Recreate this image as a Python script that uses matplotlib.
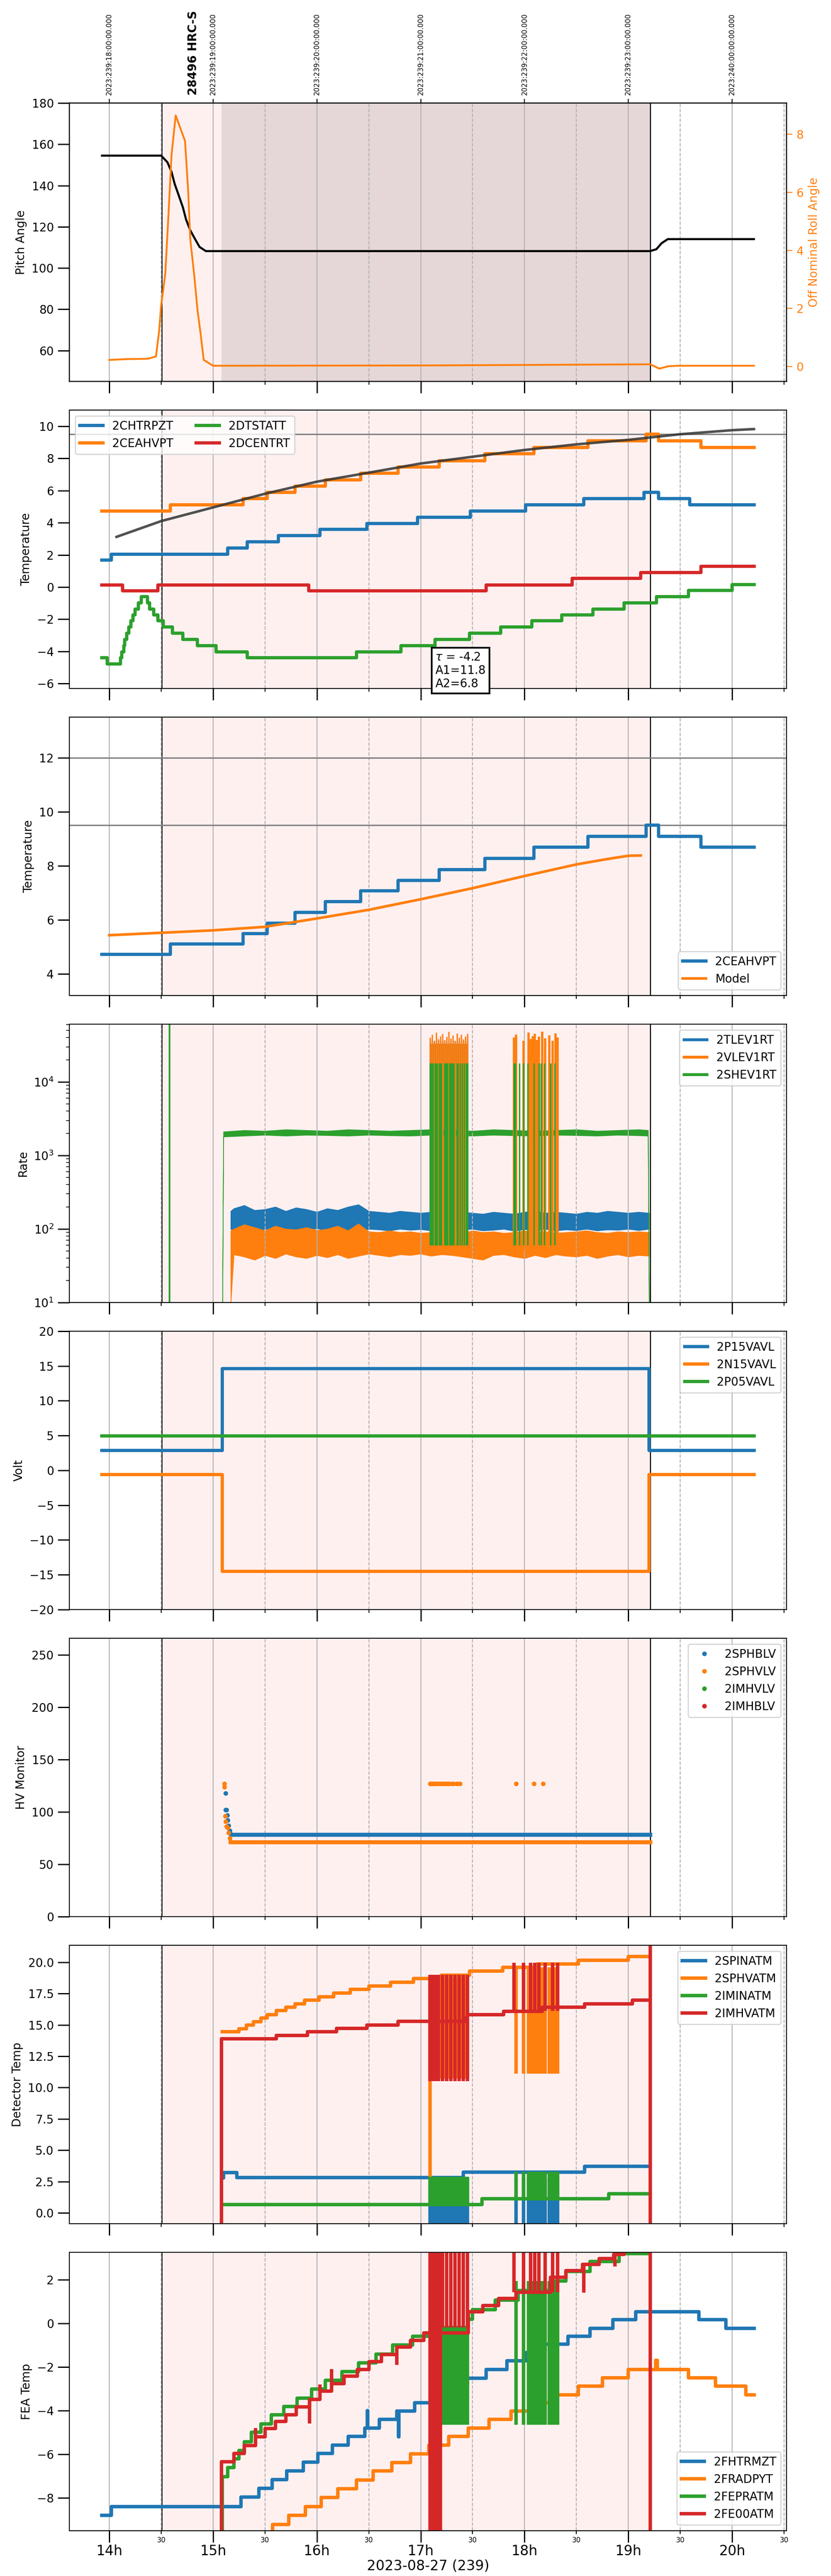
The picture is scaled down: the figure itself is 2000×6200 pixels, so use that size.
import numpy as np
import matplotlib
matplotlib.use("Agg")
import matplotlib.pyplot as plt
from matplotlib.ticker import MultipleLocator, FuncFormatter

# ---- time axis (local hours, 2023-08-27 / doy 239) ----
hour_ticks = [14, 15, 16, 17, 18, 19, 20]
doy_labels = ["2023:239:18:00:00.000", "2023:239:19:00:00.000", "2023:239:20:00:00.000",
              "2023:239:21:00:00.000", "2023:239:22:00:00.000", "2023:239:23:00:00.000",
              "2023:240:00:00:00.000"]
obs_label = "28496 HRC-S"
obs_label_t = 14.81
obs_start, obs_end = 14.508, 19.212
dwell_start = 15.08
t_first, t_last = 13.93, 20.21

# burst (glitch) switch times shared by the telemetry
b1_times = [17.09, 17.11, 17.13, 17.15, 17.17, 17.19, 17.21, 17.23, 17.25, 17.27,
            17.29, 17.31, 17.33, 17.35, 17.37, 17.39, 17.41, 17.43, 17.45]
b2_times = [17.90, 17.92, 17.99, 18.04, 18.06, 18.08, 18.10, 18.12, 18.14, 18.17,
            18.20, 18.24, 18.27, 18.30, 18.32]

# ---- panel 1: pitch / roll ----
pitch_t = [13.93, 14.50, 14.56, 14.60, 14.63, 14.67, 14.71, 14.74, 14.78, 14.83, 14.87,
           14.93, 19.21, 19.27, 19.32, 19.38, 20.21]
pitch_v = [154.5, 154.5, 151.3, 146.6, 140.8, 135.1, 129.3, 123.5, 118.3, 113.7, 110.2,
           108.2, 108.2, 109.1, 112.0, 114.0, 114.0]
roll_t = [14.00, 14.17, 14.37, 14.45, 14.48, 14.50, 14.54, 14.57, 14.60, 14.64, 14.68,
          14.73, 14.76, 14.78, 14.82, 14.85, 14.88, 14.91, 15.00, 17.03, 19.21, 19.30,
          19.38, 19.47, 20.21]
roll_v = [0.22, 0.25, 0.26, 0.34, 1.2, 2.1, 3.2, 5.2, 7.3, 8.65, 8.26, 7.77, 6.05, 4.4,
          3.09, 1.94, 1.12, 0.22, 0.02, 0.03, 0.07, -0.08, 0.0, 0.02, 0.02]

# ---- panel 2: temperatures ----
chtrpzt_t = [13.93, 14.02, 15.14, 15.33, 15.63, 16.03, 16.48, 16.97, 17.48, 18.01, 18.57,
             19.15, 19.29, 19.59, 20.21]
chtrpzt_v = [1.68, 2.05, 2.42, 2.82, 3.19, 3.59, 3.95, 4.34, 4.72, 5.10, 5.49, 5.88, 5.49,
             5.10, 5.10]
ceahvpt_t = [13.93, 14.59, 15.29, 15.52, 15.79, 16.08, 16.42, 16.78, 17.18, 17.62, 18.09,
             18.61, 19.17, 19.29, 19.70, 20.21]
ceahvpt_v = [4.72, 5.10, 5.49, 5.88, 6.27, 6.67, 7.07, 7.46, 7.86, 8.28, 8.68, 9.09, 9.50,
             9.09, 8.68, 8.68]
dtstatt_t = [13.93, 13.98, 14.11, 14.12, 14.14, 14.15, 14.17, 14.19, 14.21, 14.23, 14.25,
             14.28, 14.31, 14.37, 14.39, 14.43, 14.47, 14.52, 14.61, 14.71, 14.85, 15.03,
             15.33, 16.38, 16.81, 17.14, 17.47, 17.77, 18.07, 18.36, 18.66, 18.96, 19.27,
             19.58, 20.00, 20.21]
dtstatt_v = [-4.40, -4.79, -4.40, -4.02, -3.64, -3.25, -2.87, -2.48, -2.10, -1.74, -1.36,
             -0.97, -0.59, -0.97, -1.36, -1.74, -2.10, -2.48, -2.87, -3.25, -3.64, -4.02,
             -4.40, -4.02, -3.64, -3.25, -2.87, -2.48, -2.10, -1.74, -1.36, -0.97, -0.59,
             -0.21, 0.15, 0.15]
dcentrt_t = [13.93, 14.13, 14.47, 15.92, 17.63, 18.46, 19.12, 19.70, 20.21]
dcentrt_v = [0.14, -0.24, 0.14, -0.24, 0.14, 0.53, 0.91, 1.29, 1.29]
fit_t = [14.07, 14.5, 15.0, 15.5, 16.0, 16.5, 17.0, 17.5, 18.0, 18.5, 19.0, 19.5, 20.0, 20.21]
fit_v = [3.12, 4.10, 4.95, 5.80, 6.55, 7.11, 7.68, 8.10, 8.52, 8.87, 9.15, 9.50, 9.75, 9.82]
fit_text = r"$\tau$ = -4.2" + "\nA1=11.8\nA2=6.8"
fit_text_pos = (17.14, -3.99)
temp_limit = 9.5

# ---- panel 3: 2CEAHVPT vs model ----
model_t = [14.0, 14.5, 15.0, 15.5, 16.0, 16.5, 17.0, 17.5, 18.0, 18.5, 18.8, 19.0, 19.12]
model_v = [5.43, 5.52, 5.61, 5.74, 6.05, 6.37, 6.76, 7.17, 7.62, 8.05, 8.25, 8.37, 8.38]
model_limits = [12.0, 9.5]

# ---- panel 4: rates ----
band_t = [15.17, 15.2, 15.3, 15.4, 15.5, 15.6, 15.7, 15.8, 15.9, 16.0, 16.1, 16.2, 16.3,
          16.4, 16.5, 16.6, 16.7, 16.8, 16.9, 17.0, 17.1, 17.2, 17.3, 17.4, 17.5, 17.6,
          17.7, 17.8, 17.9, 18.0, 18.1, 18.2, 18.3, 18.4, 18.5, 18.6, 18.7, 18.8, 18.9,
          19.0, 19.1, 19.2]
tlev_hi = [175, 190, 210, 180, 185, 200, 175, 195, 185, 170, 190, 180, 200, 215, 175, 170,
           165, 175, 170, 165, 170, 160, 165, 170, 165, 160, 170, 165, 160, 170, 175, 165,
           170, 165, 160, 170, 165, 175, 170, 165, 170, 165]
tlev_lo = [100, 95, 105, 92, 100, 98, 90, 100, 96, 102, 94, 100, 97, 92, 100, 98, 95, 100,
           97, 99, 95, 100, 96, 98, 100, 95, 97, 100, 94, 99, 96, 100, 95, 98, 96, 100, 95,
           98, 97, 100, 96, 100]
vlev_hi = [95, 100, 115, 105, 95, 110, 100, 98, 105, 96, 100, 110, 95, 118, 92, 90, 95, 90,
           92, 88, 90, 92, 90, 88, 95, 90, 92, 88, 90, 95, 90, 92, 88, 90, 92, 95, 90, 88,
           92, 90, 92, 90]
vlev_lo = [10, 45, 42, 38, 44, 40, 46, 42, 40, 44, 41, 45, 40, 43, 46, 44, 42, 45, 44, 46,
           43, 45, 44, 42, 40, 38, 44, 45, 42, 40, 44, 41, 45, 43, 42, 44, 40, 43, 45, 42,
           44, 43]
shev_t = [15.09, 15.10, 15.3, 15.5, 15.7, 15.9, 16.1, 16.3, 16.5, 16.7, 16.9, 17.1, 17.3,
          17.5, 17.7, 17.9, 18.1, 18.3, 18.5, 18.7, 18.9, 19.1, 19.19, 19.20]
shev_hi = [10, 2100, 2200, 2150, 2250, 2200, 2150, 2250, 2200, 2150, 2200, 2250, 2200,
           2150, 2250, 2200, 2150, 2200, 2250, 2150, 2200, 2250, 2200, 10]
shev_lo = [10, 1800, 1850, 1900, 1850, 1900, 1880, 1850, 1900, 1870, 1850, 1900, 1880,
           1850, 1900, 1870, 1850, 1900, 1880, 1850, 1900, 1870, 1850, 10]
shev_spike_t = 14.58
tlev_burst_hi = 36000
vlev_burst_lo, vlev_burst_hi = 50, 33000
vlev_burst_tops = [40000, 44000, 36000, 47000, 38000, 42000, 45000, 37000, 41000, 48000,
                   39000, 43000, 36000, 46000, 40000, 44000, 38000, 42000, 45000]
shev_b1_times = [17.09, 17.10, 17.11, 17.12, 17.14, 17.15, 17.16, 17.18, 17.19, 17.20,
                 17.23, 17.24, 17.25, 17.26, 17.28, 17.29, 17.30, 17.31, 17.32, 17.35,
                 17.36, 17.38, 17.40, 17.42, 17.44, 17.45]
shev_b2_times = [17.90, 17.91, 17.95, 17.99, 18.03, 18.09, 18.14, 18.16, 18.19, 18.25, 18.29]
shev_burst_lo, shev_burst_hi = 60, 18000

# ---- panel 5: voltages ----
volt_t = [13.93, 15.09, 19.20, 20.21]
p15_v = [2.87, 14.6, 2.87, 2.87]
n15_v = [-0.63, -14.5, -0.63, -0.63]
p05_t = [13.93, 20.21]
p05_v = [4.94, 4.94]

# ---- panel 6: HV monitors ----
sphblv_t = [15.12, 15.12, 15.13, 15.135, 15.14, 15.15, 15.16, 15.17]
sphblv_v = [118, 102, 102, 97, 92, 87, 82, 79]
sphblv_level_t = [15.18, 19.21]
sphblv_level = [78, 78]
sphvlv_t = [15.11, 15.11, 15.115, 15.12, 15.13, 15.14, 15.15, 15.16, 15.17,
            17.09, 17.10, 17.11, 17.12, 17.13, 17.14, 17.15, 17.17, 17.19, 17.20, 17.22,
            17.24, 17.26, 17.27, 17.30, 17.32, 17.35, 17.38, 17.92, 18.09, 18.18]
sphvlv_v = [127, 124, 96, 91, 86, 85, 80, 75, 72,
            127, 127, 127, 127, 127, 127, 127, 127, 127, 127, 127,
            127, 127, 127, 127, 127, 127, 127, 127, 127, 127]
sphvlv_level_t = [15.17, 19.21]
sphvlv_level = [71, 71]

# ---- panel 7: detector temps ----
spinatm_t = [15.09, 15.10, 15.23, 17.41, 18.58, 19.20]
spinatm_v = [2.80, 3.23, 2.81, 3.26, 3.72, 3.72]
sphvatm_t = [15.09, 15.25, 15.32, 15.39, 15.46, 15.52, 15.61, 15.70, 15.79, 15.88, 16.02,
             16.16, 16.32, 16.50, 16.71, 16.93, 17.20, 17.47, 17.79, 18.12, 18.52, 19.00,
             19.20]
sphvatm_v = [14.44, 14.69, 14.98, 15.25, 15.54, 15.82, 16.13, 16.42, 16.69, 16.97, 17.24,
             17.53, 17.82, 18.10, 18.39, 18.68, 18.95, 19.29, 19.58, 19.86, 20.17, 20.46,
             20.46]
iminatm_t = [15.09, 17.59, 18.81, 19.20]
iminatm_v = [0.66, 1.12, 1.52, 1.52]
imhvatm_t = [15.08, 15.08, 15.61, 15.91, 16.19, 16.48, 16.78, 17.44, 17.45, 17.80, 18.17,
             18.58, 19.04, 19.20]
imhvatm_v = [-5.0, 13.88, 14.17, 14.44, 14.71, 14.98, 15.27, 15.57, 15.82, 16.09, 16.42,
             16.67, 16.97, 16.97]
imhvatm_end_spike = [-5.0, 30.0]
det_b1 = {"spinatm": (-5.0, 2.81), "sphvatm": (10.7, 18.8), "iminatm": (0.66, 2.9),
          "imhvatm": (10.5, 19.0)}
det_b2 = {"spinatm": (-5.0, 3.26), "sphvatm": (11.1, 19.58), "iminatm": (1.12, 3.3),
          "imhvatm": (16.1, 19.97)}

# ---- panel 8: FEA temps ----
fhtrmzt_t = [13.93, 14.02, 15.27, 15.44, 15.57, 15.71, 15.87, 16.01, 16.15, 16.30, 16.46,
             16.485, 16.49, 16.60, 16.77, 16.785, 16.79, 16.94, 17.25, 17.41, 17.45, 17.63,
             17.83, 18.02, 18.20, 18.42, 18.63, 18.85, 19.07, 19.68, 19.94, 20.21]
fhtrmzt_v = [-8.80, -8.39, -7.96, -7.56, -7.16, -6.77, -6.37, -5.97, -5.58, -5.19, -4.80,
             -4.00, -4.80, -4.40, -4.03, -5.20, -4.03, -3.64, -3.25, -2.86, -2.51, -2.11,
             -1.72, -1.34, -0.96, -0.60, -0.23, 0.16, 0.53, 0.16, -0.23, -0.23]
fradpyt_t = [15.57, 15.575, 15.73, 15.89, 16.04, 16.20, 16.38, 16.54, 16.72, 16.90, 17.08,
             17.27, 17.46, 17.66, 17.87, 18.10, 18.30, 18.52, 18.75, 19.00, 19.265, 19.28,
             19.58, 19.84, 20.13, 20.21]
fradpyt_v = [-10.0, -9.21, -8.79, -8.39, -7.98, -7.58, -7.18, -6.77, -6.38, -5.98, -5.58,
             -5.19, -4.80, -4.41, -4.03, -3.64, -3.27, -2.88, -2.50, -2.12, -1.70, -2.12,
             -2.50, -2.88, -3.27, -3.27]
fepratm_t = [15.09, 15.09, 15.14, 15.20, 15.25, 15.30, 15.37, 15.46, 15.56, 15.68, 15.81,
             15.95, 16.08, 16.24, 16.40, 16.57, 16.73, 16.92, 17.09, 17.46, 17.50, 17.72,
             17.94, 18.25, 18.40, 18.63, 18.91, 19.20]
fepratm_v = [-10.0, -7.03, -6.61, -6.21, -5.82, -5.43, -5.00, -4.61, -4.20, -3.81, -3.43,
             -3.01, -2.62, -2.22, -1.82, -1.41, -1.00, -0.59, -0.20, 0.19, 0.62, 1.06, 1.50,
             1.93, 2.37, 2.83, 3.20, 3.20]
fe00atm_t = [15.08, 15.08, 15.20, 15.30, 15.41, 15.50, 15.60, 15.70, 15.80, 15.93, 16.03,
             16.14, 16.26, 16.39, 16.50, 16.62, 16.77, 16.90, 17.03, 17.46, 17.60, 17.75,
             17.92, 18.25, 18.40, 18.56, 18.72, 18.86, 18.96, 19.20]
fe00atm_v = [-10.0, -6.35, -5.97, -5.61, -5.21, -4.83, -4.49, -4.20, -3.83, -3.49, -3.11,
             -2.77, -2.43, -2.11, -1.75, -1.43, -1.10, -0.78, -0.44, 0.53, 0.82, 1.13, 1.42,
             2.10, 2.42, 2.69, 2.97, 3.16, 3.30, 3.30]
fe00atm_spike_t = [15.41, 15.93, 16.03, 16.14, 16.77, 18.57, 18.87]
fe00atm_spike_lo = [-5.21, -4.60, -3.11, -2.77, -1.90, 1.40, 2.60]
fe00atm_spike_hi = [-4.80, -3.49, -2.80, -2.10, -1.43, 2.69, 3.16]
fea_b1_full = b1_times[:6]
fea_b1_rest = b1_times[6:]
fea_b1_red = (-0.20, 5.0)
fea_b1_green = (-4.65, -0.20)
fea_b2_red = (1.42, 5.0)
fea_b2_green = (-4.65, 1.93)
fea_full_span = (-12.0, 5.0)

plt.rcParams["font.size"] = 10
plt.rcParams["legend.fontsize"] = 10

fig, axes = plt.subplots(8, 1, sharex=True, figsize=(10, 31), dpi=200)
fig.subplots_adjust(left=0.0835, right=0.9465, top=0.96, bottom=0.0176, hspace=0.103)
ax1, ax2, ax3, ax4, ax5, ax6, ax7, ax8 = axes

LW = 2.8
step = dict(drawstyle="steps-post", lw=LW)

for ax in axes:
    ax.axvspan(obs_start, obs_end, color="red", alpha=0.06, lw=0, zorder=0)
    ax.axvline(obs_start, color="k", lw=0.8, zorder=1.6)
    ax.axvline(obs_end, color="k", lw=0.9, zorder=1.6)
    ax.xaxis.set_major_locator(MultipleLocator(1))
    ax.xaxis.set_minor_locator(MultipleLocator(0.5))
    ax.grid(which="major", axis="x", color="#b0b0b0", lw=0.8)
    ax.grid(which="minor", axis="x", color="#b0b0b0", lw=0.8, ls="--")
    ax.tick_params(axis="both", which="major", length=10, width=1.1, labelsize=10)
    ax.tick_params(axis="x", which="minor", length=3, width=0.8)

# panel 1
ax1.axvspan(dwell_start, obs_end, color="k", alpha=0.1, lw=0, zorder=0)
ax1.plot(pitch_t, pitch_v, color="k", lw=1.8)
ax1.set_ylim(45, 180)
ax1.set_ylabel("Pitch Angle")
ax1r = ax1.twinx()
ax1r.plot(roll_t, roll_v, color="C1", lw=1.6)
ax1r.set_ylim(-0.52, 9.08)
ax1r.set_ylabel("Off Nominal Roll Angle", color="C1")
ax1r.tick_params(axis="y", colors="C1", length=5, labelsize=10)
ax1t = ax1.twiny()
ax1t.set_xlim(t_first - 0.314, t_last + 0.314)
ax1t.set_xticks(hour_ticks)
ax1t.set_xticklabels(doy_labels, rotation=90, fontsize=6)
ax1t.tick_params(axis="x", length=3.5)
ax1.annotate(obs_label, xy=(obs_label_t, 1), xycoords=("data", "axes fraction"),
             xytext=(0, 7), textcoords="offset points", rotation=90, ha="center",
             va="bottom", fontsize=10, fontweight="bold")

# panel 2
ax2.axhline(temp_limit, color="gray", lw=1.2)
ax2.plot(chtrpzt_t, chtrpzt_v, color="C0", label="2CHTRPZT", **step)
ax2.plot(ceahvpt_t, ceahvpt_v, color="C1", label="2CEAHVPT", **step)
ax2.plot(dtstatt_t, dtstatt_v, color="C2", label="2DTSTATT", **step)
ax2.plot(dcentrt_t, dcentrt_v, color="C3", label="2DCENTRT", **step)
ax2.plot(fit_t, fit_v, color="#333333", lw=2.2, alpha=0.85)
ax2.text(fit_text_pos[0], fit_text_pos[1], fit_text, ha="left", va="top", fontsize=10,
         bbox=dict(boxstyle="square", fc="white", ec="black", lw=1.5), clip_on=False,
         zorder=5)
ax2.set_ylim(-6.3, 11.0)
ax2.set_ylabel("Temperature")
ax2.legend(loc="upper left", ncol=2)

# panel 3
for lim in model_limits:
    ax3.axhline(lim, color="gray", lw=1.2)
ax3.plot(ceahvpt_t, ceahvpt_v, color="C0", label="2CEAHVPT", **step)
ax3.plot(model_t, model_v, color="C1", lw=2.3, label="Model")
ax3.set_ylim(3.2, 13.5)
ax3.set_ylabel("Temperature")
ax3.legend(loc="lower right")

# panel 4
ax4.set_yscale("log")
ax4.fill_between(band_t, tlev_lo, tlev_hi, color="C0", lw=0.6, edgecolor="C0")
ax4.vlines(b1_times + b2_times, tlev_lo[0], tlev_burst_hi, color="C0", lw=1.2)
ax4.fill_between(band_t, vlev_lo, vlev_hi, color="C1", lw=0.6, edgecolor="C1")
ax4.fill_between([b1_times[0], b1_times[-1]], vlev_burst_lo, vlev_burst_hi, color="C1", lw=0)
ax4.vlines(b1_times, vlev_burst_lo, vlev_burst_tops, color="C1", lw=1.2)
ax4.vlines(b2_times, vlev_burst_lo, vlev_burst_tops[:len(b2_times)], color="C1", lw=2.0)
ax4.fill_between(shev_t, shev_lo, shev_hi, color="C2", lw=0.6, edgecolor="C2")
ax4.vlines([shev_spike_t], 1, 1e6, color="C2", lw=1.5)
ax4.vlines(shev_b1_times + shev_b2_times, shev_burst_lo, shev_burst_hi, color="C2", lw=1.2)
ax4.plot([], [], color="C0", lw=2.5, label="2TLEV1RT")
ax4.plot([], [], color="C1", lw=2.5, label="2VLEV1RT")
ax4.plot([], [], color="C2", lw=2.5, label="2SHEV1RT")
ax4.set_ylim(10, 6.1e4)
ax4.set_ylabel("Rate")
ax4.tick_params(axis="y", which="minor", length=3)
ax4.legend(loc="upper right")

# panel 5
ax5.plot(volt_t, p15_v, color="C0", label="2P15VAVL", **step)
ax5.plot(volt_t, n15_v, color="C1", label="2N15VAVL", **step)
ax5.plot(p05_t, p05_v, color="C2", label="2P05VAVL", **step)
ax5.set_ylim(-20, 20)
ax5.set_yticks([-20, -15, -10, -5, 0, 5, 10, 15, 20])
ax5.set_ylabel("Volt")
ax5.legend(loc="upper right")

# panel 6
ax6.plot(sphblv_level_t, sphblv_level, color="C0", lw=3.5)
ax6.plot(sphvlv_level_t, sphvlv_level, color="C1", lw=3.5)
ax6.plot(sphblv_t, sphblv_v, "o", ms=3, color="C0", label="2SPHBLV")
ax6.plot(sphvlv_t, sphvlv_v, "o", ms=3, color="C1", label="2SPHVLV")
ax6.plot([], [], "o", ms=3, color="C2", label="2IMHVLV")
ax6.plot([], [], "o", ms=3, color="C3", label="2IMHBLV")
ax6.set_ylim(0, 266)
ax6.set_ylabel("HV Monitor")
ax6.legend(loc="upper right")

# panel 7
LW7 = 3.0
st7 = dict(drawstyle="steps-post", lw=LW7)
ax7.plot(spinatm_t, spinatm_v, color="C0", label="2SPINATM", **st7)
ax7.vlines(b1_times + b2_times[1:], det_b1["spinatm"][0], det_b1["spinatm"][1],
           color="C0", lw=LW7)
ax7.plot(sphvatm_t, sphvatm_v, color="C1", label="2SPHVATM", **st7)
ax7.vlines(b1_times, det_b1["sphvatm"][0], det_b1["sphvatm"][1], color="C1", lw=LW7)
ax7.vlines([b1_times[0]], det_b1["iminatm"][1], det_b1["sphvatm"][1], color="C1", lw=LW7)
ax7.vlines(b2_times[1:], det_b2["sphvatm"][0], det_b2["sphvatm"][1], color="C1", lw=LW7)
ax7.plot(iminatm_t, iminatm_v, color="C2", label="2IMINATM", **st7)
ax7.vlines(b1_times, det_b1["iminatm"][0], det_b1["iminatm"][1], color="C2", lw=LW7)
ax7.vlines(b2_times[1:], det_b2["iminatm"][0], det_b2["iminatm"][1], color="C2", lw=LW7)
ax7.plot(imhvatm_t, imhvatm_v, color="C3", label="2IMHVATM", **st7)
ax7.vlines(b1_times[::2], det_b1["imhvatm"][0], det_b1["imhvatm"][1], color="C3", lw=LW7)
ax7.vlines(b1_times[:5], det_b1["imhvatm"][0], det_b1["imhvatm"][1], color="C3", lw=LW7)
ax7.vlines(b2_times[::2], det_b2["imhvatm"][0], det_b2["imhvatm"][1], color="C3", lw=LW7)
ax7.vlines([obs_end], imhvatm_end_spike[0], imhvatm_end_spike[1], color="C3", lw=LW7)
ax7.set_ylim(-0.85, 21.35)
ax7.set_yticks([0, 2.5, 5, 7.5, 10, 12.5, 15, 17.5, 20])
ax7.set_ylabel("Detector Temp")
ax7.legend(loc="upper right")

# panel 8
ax8.plot(fhtrmzt_t, fhtrmzt_v, color="C0", label="2FHTRMZT", **st7)
ax8.plot(fradpyt_t, fradpyt_v, color="C1", label="2FRADPYT", **st7)
ax8.plot(fepratm_t, fepratm_v, color="C2", label="2FEPRATM", **st7)
ax8.vlines(fea_b1_rest, fea_b1_green[0], fea_b1_green[1], color="C2", lw=LW7)
ax8.vlines(b2_times[1:], fea_b2_green[0], fea_b2_green[1], color="C2", lw=LW7)
ax8.plot(fe00atm_t, fe00atm_v, color="C3", label="2FE00ATM", **st7)
ax8.vlines(fe00atm_spike_t, fe00atm_spike_lo, fe00atm_spike_hi, color="C3", lw=LW7)
ax8.vlines(fea_b1_full, fea_full_span[0], fea_full_span[1], color="C3", lw=LW7)
ax8.vlines(fea_b1_rest[::2], fea_b1_red[0], fea_b1_red[1], color="C3", lw=LW7)
ax8.vlines(b2_times[::2], fea_b2_red[0], fea_b2_red[1], color="C3", lw=LW7)
ax8.vlines([obs_end], fea_full_span[0], fea_full_span[1], color="C3", lw=LW7)
ax8.set_ylim(-9.5, 3.25)
ax8.set_ylabel("FEA Temp")
ax8.legend(loc="lower right")

ax8.set_xlim(t_first - 0.314, t_last + 0.314)
ax8.xaxis.set_major_formatter(FuncFormatter(lambda x, p: "%dh" % round(x)))
ax8.xaxis.set_minor_formatter(FuncFormatter(lambda x, p: "30"))
ax8.tick_params(axis="x", which="major", labelsize=12, pad=2)
ax8.tick_params(axis="x", which="minor", labelsize=6, pad=2)
ax8.set_xlabel("2023-08-27 (239)", fontsize=12, labelpad=1)

fig.savefig("out.png", dpi=200)
